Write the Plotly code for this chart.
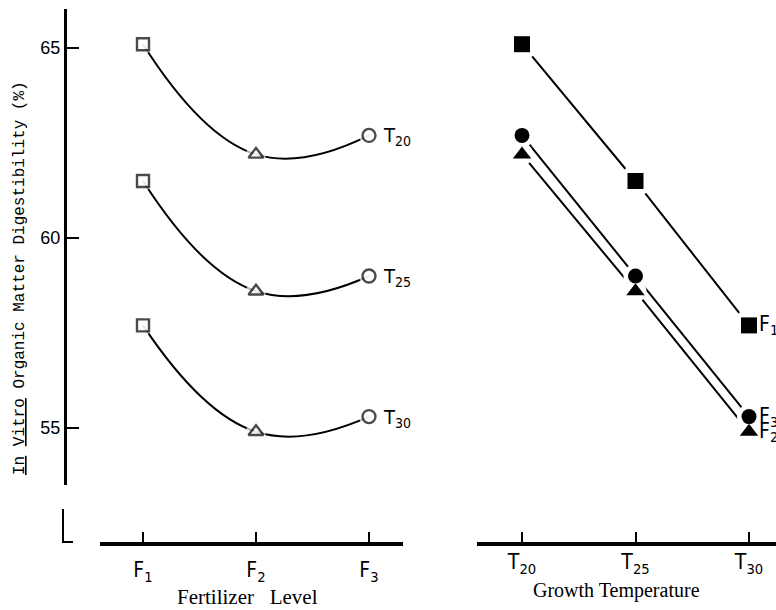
import plotly.graph_objects as go

W, H = 776, 610

# ---------------- data ----------------
fert_levels = ["F<sub>1</sub>", "F<sub>2</sub>", "F<sub>3</sub>"]
temps = ["T<sub>20</sub>", "T<sub>25</sub>", "T<sub>30</sub>"]
# In vitro OM digestibility (%) by growth temperature, values for F1, F2, F3
ivomd_T20 = [65.1, 62.2, 62.7]
ivomd_T25 = [61.5, 58.6, 59.0]
ivomd_T30 = [57.7, 54.9, 55.3]
y_ticks = [55, 60, 65]

by_temp = [ivomd_T20, ivomd_T25, ivomd_T30]
by_fert = [[row[i] for row in by_temp] for i in range(3)]

# ---------------- styling helpers ----------------
def px_x(p):
    return p / W

def px_y(p):
    return 1 - p / H

SANS = "Liberation Sans Narrow, DejaVu Sans Condensed, Liberation Sans, sans-serif"
SERIF = "Liberation Serif, Times New Roman, serif"
MONO = "Liberation Mono, DejaVu Sans Mono, monospace"

open_symbols = ["square", "triangle-up", "circle"]
open_sizes = [12, 13, 13]
left_mask = [20, 20, 20]
fill_symbols = ["square", "triangle-up", "circle"]
fill_sizes = [16, 16, 15]
right_mask = [32, 22, 24]

fig = go.Figure()

# ---- left panel: curves per temperature over fertilizer levels ----
for vals in by_temp:
    fig.add_trace(go.Scatter(
        x=[0, 1, 2], y=vals, mode="lines", xaxis="x", yaxis="y",
        line=dict(color="black", width=2, shape="spline", smoothing=1.3),
        hoverinfo="skip", showlegend=False))
for vals in by_temp:
    fig.add_trace(go.Scatter(
        x=[0, 1, 2], y=vals, mode="markers", xaxis="x", yaxis="y",
        marker=dict(color="white", size=left_mask, line=dict(width=0)),
        hoverinfo="skip", showlegend=False))
for vals in by_temp:
    fig.add_trace(go.Scatter(
        x=[0, 1, 2], y=vals, mode="markers", xaxis="x", yaxis="y",
        marker=dict(color="white", symbol=open_symbols, size=open_sizes,
                    line=dict(color="black", width=2.4)),
        showlegend=False))

# ---- right panel: lines per fertilizer over temperatures ----
for vals in by_fert:
    fig.add_trace(go.Scatter(
        x=[0, 1, 2], y=vals, mode="lines", xaxis="x2", yaxis="y",
        line=dict(color="black", width=2),
        hoverinfo="skip", showlegend=False))
for i, vals in enumerate(by_fert):
    fig.add_trace(go.Scatter(
        x=[0, 1, 2], y=vals, mode="markers", xaxis="x2", yaxis="y",
        marker=dict(color="white", size=right_mask[i], line=dict(width=0)),
        hoverinfo="skip", showlegend=False))
for i, vals in enumerate(by_fert):
    fig.add_trace(go.Scatter(
        x=[0, 1, 2], y=vals, mode="markers", xaxis="x2", yaxis="y",
        marker=dict(color="black", symbol=fill_symbols[i], size=fill_sizes[i],
                    line=dict(width=0)),
        showlegend=False))

annotations = []
# temperature labels at the F3 end of the left curves
for t, vals in zip(temps, by_temp):
    annotations.append(dict(
        x=2, y=vals[2], xref="x", yref="y", text=t, showarrow=False,
        xanchor="left", yanchor="middle", xshift=12, yshift=-1,
        font=dict(family=SANS, size=20, color="black")))
# fertilizer labels at the T30 end of the right lines
for f, vals in zip(fert_levels, by_fert):
    annotations.append(dict(
        x=2, y=vals[2], xref="x2", yref="y", text=f, showarrow=False,
        xanchor="left", yanchor="middle", xshift=8,
        font=dict(family=SANS, size=21, color="black")))

# axis titles
annotations.append(dict(
    x=px_x(248), y=px_y(597), xref="paper", yref="paper",
    text="Fertilizer\u00a0\u00a0\u00a0Level", showarrow=False,
    xanchor="center", yanchor="middle",
    font=dict(family=SERIF, size=21, color="black")))
annotations.append(dict(
    x=px_x(616), y=px_y(590), xref="paper", yref="paper",
    text="Growth Temperature", showarrow=False,
    xanchor="center", yanchor="middle",
    font=dict(family=SERIF, size=20, color="black")))
annotations.append(dict(
    x=px_x(20), y=px_y(278), xref="paper", yref="paper",
    text="<u>In</u> <u>Vitro</u> Organic Matter Digestibility (%)",
    showarrow=False, textangle=-90, xanchor="center", yanchor="middle",
    font=dict(family=MONO, size=16, color="black")))

shapes = [dict(
    type="path", xref="paper", yref="paper",
    path=f"M {px_x(63)} {px_y(509)} L {px_x(63)} {px_y(542)} L {px_x(73)} {px_y(542)}",
    line=dict(color="black", width=2))]

y_domain = [px_y(485), px_y(9)]
y_range = [65 - (485 - 48) / 38, 65 + (48 - 9) / 38]

fig.update_layout(
    width=W, height=H,
    margin=dict(l=0, r=0, t=0, b=0),
    paper_bgcolor="white", plot_bgcolor="white",
    showlegend=False,
    annotations=annotations,
    shapes=shapes,
    xaxis=dict(
        domain=[px_x(100), px_x(403)],
        range=[-43 / 113, 2 + 34 / 113],
        tickmode="array", tickvals=[0, 1, 2], ticktext=fert_levels,
        ticks="inside", ticklen=10, tickwidth=2, tickcolor="black",
        showline=True, linewidth=4, linecolor="black",
        showgrid=False, zeroline=False,
        anchor="free", position=px_y(544), ticklabelstandoff=6,
        tickfont=dict(family=SANS, size=21, color="black")),
    xaxis2=dict(
        domain=[px_x(477), 1.0],
        range=[-45 / 113.5, 2 + 27 / 113.5],
        tickmode="array", tickvals=[0, 1, 2], ticktext=temps,
        ticks="inside", ticklen=10, tickwidth=2, tickcolor="black",
        showline=True, linewidth=4, linecolor="black",
        showgrid=False, zeroline=False,
        anchor="free", position=px_y(544), ticklabelstandoff=-2,
        tickfont=dict(family=SANS, size=21, color="black")),
    yaxis=dict(
        domain=y_domain, range=y_range,
        tickmode="array", tickvals=y_ticks,
        ticks="inside", ticklen=12, tickwidth=2, tickcolor="black",
        showline=True, linewidth=3, linecolor="black",
        showgrid=False, zeroline=False,
        anchor="free", position=px_x(65), ticklabelstandoff=0,
        tickfont=dict(family="Liberation Sans, sans-serif", size=18, color="black")),
)

fig.write_html("out.html")
